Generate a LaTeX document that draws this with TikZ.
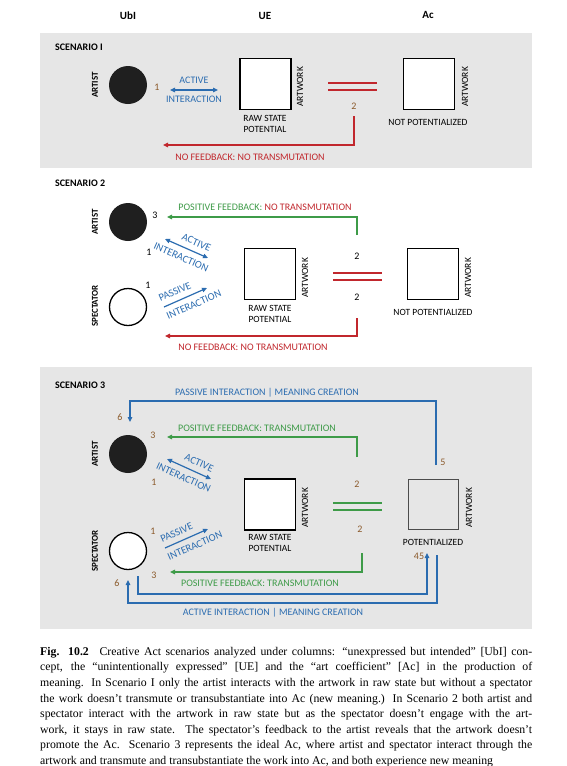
\documentclass[tikz,border=0pt]{standalone}
\usepackage{fontspec}
\setmainfont{Liberation Serif}
\newfontfamily\dfont{Carlito}
\usetikzlibrary{arrows.meta}
\definecolor{cblue}{HTML}{2B6CB0}
\definecolor{cred}{HTML}{C1272D}
\definecolor{cgreen}{HTML}{3E9B48}
\definecolor{cbrown}{HTML}{8B5A2B}
\definecolor{cgrey}{HTML}{E6E6E6}
\tikzset{
  lbl/.style={font=\dfont\fontsize{9.5}{10.5}\selectfont, inner sep=0pt, align=center},
  vlbl/.style={font=\dfont\fontsize{9.5}{10.5}\selectfont, inner sep=0pt, rotate=90},
  plbl/.style={font=\dfont\bfseries\fontsize{9}{10}\selectfont, inner sep=0pt, rotate=90},
  num/.style={font=\dfont\fontsize{10}{11}\selectfont, inner sep=0pt},
  bnum/.style={num, text=cbrown},
  hdr/.style={font=\dfont\bfseries\fontsize{11}{12}\selectfont, inner sep=0pt},
  scen/.style={font=\dfont\bfseries\fontsize{10}{11}\selectfont, anchor=west, inner sep=0pt},
  clbl/.style={font=\dfont\fontsize{10}{11}\selectfont, inner sep=0pt},
  slbl/.style={font=\dfont\fontsize{10.5}{11}\selectfont, inner sep=0pt, sloped, text=cblue},
  artist/.style={circle, fill=black!88, minimum size=38pt, inner sep=0pt},
  spect/.style={circle, draw=black, line width=1.3pt, fill=white, minimum size=37pt, inner sep=0pt},
  artbox/.style={draw=black, line width=1.8pt, fill=white, minimum size=51pt, inner sep=0pt},
  potbox/.style={draw=black!70, line width=1.8pt, minimum size=50pt, inner sep=0pt},
  arr/.style={line width=1.2pt, -{Triangle[length=5pt,width=4.5pt]}},
  darr/.style={line width=1.2pt, {Triangle[length=5pt,width=4.5pt]}-{Triangle[length=5pt,width=4.5pt]}},
  eqbar/.style={minimum width=49pt, minimum height=2pt, inner sep=0pt, outer sep=0pt, draw=none},
}
\begin{document}
\begin{tikzpicture}[x=1pt,y=-1pt]
\fill[white] (0,0) rectangle (567,766);
\useasboundingbox (0,0) rectangle (567,766);
% backgrounds
\fill[cgrey] (40,33) rectangle (532,168);
\fill[cgrey] (40,367) rectangle (532,629);
% headers
\node[hdr] (hUbI) at (128,16) {UbI};
\node[hdr] (hUE) at (265,16) {UE};
\node[hdr] (hAc) at (428,15) {Ac};

% ---------------- SCENARIO 1
\node[scen] (sc1) at (55,47) {SCENARIO I};
\node[artist] (a1) at (128,85) {};
\node[plbl] (a1l) at (95,85) {ARTIST};
\node[bnum] (a1n) at (157,87) {1};
\coordinate (a1p) at (170,90);
\coordinate (a1q) at (218,90);
\draw[darr, cblue] (a1p) -- (a1q)
  node[clbl, midway, above=5.5pt, text=cblue] (a1t1) {ACTIVE}
  node[clbl, midway, below=5.5pt, text=cblue] (a1t2) {INTERACTION};
\node[artbox] (w1) at (265.5,84) {};
\node[vlbl] (w1l) at (300,87) {ARTWORK};
\node[lbl] (w1s) at (265,124) {RAW STATE\\POTENTIAL};
\node[eqbar, fill=cred] (q1a) at (352.5,83.2) {};
\node[eqbar, fill=cred] (q1b) at (352.5,89.8) {};
\node[bnum] (n1) at (354,106) {2};
\coordinate (r1s) at (354,116);
\coordinate (r1e) at (163,145);
\draw[arr, cred] (r1s) |- (r1e);
\node[clbl, text=cred] (r1l) at (250,157) {NO FEEDBACK: NO TRANSMUTATION};
\node[artbox] (v1) at (429,84) {};
\node[vlbl] (v1l) at (465,87) {ARTWORK};
\node[lbl] (v1s) at (428,122) {NOT POTENTIALIZED};

% ---------------- SCENARIO 2
\node[scen] (sc2) at (55,183) {SCENARIO 2};
\node[artist] (a2) at (128,222) {};
\node[plbl] (a2l) at (95,222) {ARTIST};
\node[num] (a2n3) at (155,215) {3};
\coordinate (g2s) at (357,235);
\coordinate (g2e) at (167,217);
\draw[arr, cgreen] (g2s) |- (g2e);
\node[clbl] (g2l) at (265,207) {\textcolor{cgreen}{POSITIVE FEEDBACK:} \textcolor{cred}{NO TRANSMUTATION}};
\node[num] (a2n1) at (149,252) {1};
\coordinate (a2p) at (165,239);
\coordinate (a2q) at (208,258);
\draw[darr, cblue] (a2p) -- (a2q)
  node[slbl, pos=0.64, above=5.5pt] (a2t1) {ACTIVE}
  node[slbl, pos=0.47, below=6pt] (a2t2) {INTERACTION};
\node[spect] (s2) at (128,307) {};
\node[plbl] (s2l) at (95,306) {SPECTATOR};
\node[num] (s2n1) at (148,285) {1};
\coordinate (s2p) at (164,307);
\coordinate (s2q) at (207,288);
\draw[arr, cblue] (s2p) -- (s2q)
  node[slbl, pos=0.34, above=5.5pt] (s2t1) {PASSIVE}
  node[slbl, pos=0.6, below=6pt] (s2t2) {INTERACTION};
\node[artbox] (w2) at (270,274) {};
\node[vlbl] (w2l) at (305,278) {ARTWORK};
\node[lbl] (w2s) at (270,314) {RAW STATE\\POTENTIAL};
\node[eqbar, fill=cred] (q2a) at (357.5,273.2) {};
\node[eqbar, fill=cred] (q2b) at (357.5,279.8) {};
\node[num] (n2a) at (357,256) {2};
\node[num] (n2b) at (357,297) {2};
\coordinate (r2s) at (357,318);
\coordinate (r2e) at (165,336);
\draw[arr, cred] (r2s) |- (r2e);
\node[clbl, text=cred] (r2l) at (253,347) {NO FEEDBACK: NO TRANSMUTATION};
\node[artbox] (v2) at (433,274) {};
\node[vlbl] (v2l) at (468,278) {ARTWORK};
\node[lbl] (v2s) at (433,312) {NOT POTENTIALIZED};

% ---------------- SCENARIO 3
\node[scen] (sc3) at (55,385) {SCENARIO 3};
\coordinate (b3s) at (436,465);
\coordinate (b3m) at (130,401);
\coordinate (b3e) at (130,422);
\draw[arr, cblue] (b3s) |- (b3m) -- (b3e);
\node[clbl, text=cblue] (b3l) at (267,393) {PASSIVE INTERACTION | MEANING CREATION};
\node[bnum] (a3n6) at (120,417) {6};
\node[artist] (a3) at (128,454) {};
\node[plbl] (a3l) at (95,454) {ARTIST};
\node[bnum] (a3n3) at (153,435) {3};
\coordinate (g3s) at (357,457);
\coordinate (g3e) at (167,437);
\draw[arr, cgreen] (g3s) |- (g3e);
\node[clbl, text=cgreen] (g3l) at (257,428) {POSITIVE FEEDBACK: TRANSMUTATION};
\node[bnum] (n5) at (443,462) {5};
\node[bnum] (a3n1) at (154,482) {1};
\coordinate (a3p) at (167,459);
\coordinate (a3q) at (211,479);
\draw[darr, cblue] (a3p) -- (a3q)
  node[slbl, pos=0.64, above=5.5pt] (a3t1) {ACTIVE}
  node[slbl, pos=0.47, below=6pt] (a3t2) {INTERACTION};
\node[artbox] (w3) at (270,504.5) {};
\node[vlbl] (w3l) at (305,508) {ARTWORK};
\node[lbl] (w3s) at (270,543) {RAW STATE\\POTENTIAL};
\node[eqbar, fill=cgreen] (q3a) at (357.5,503.2) {};
\node[eqbar, fill=cgreen] (q3b) at (357.5,509.8) {};
\node[bnum] (n3a) at (357,484) {2};
\node[bnum] (n3b) at (360,529) {2};
\node[potbox] (v3) at (433.5,504.5) {};
\node[vlbl] (v3l) at (469,508) {ARTWORK};
\node[lbl] (v3s) at (433,542) {POTENTIALIZED};
\node[bnum] (n45) at (419,556) {45};
\node[spect] (s3) at (128,551) {};
\node[plbl] (s3l) at (95,551) {SPECTATOR};
\node[bnum] (s3n1) at (153,531) {1};
\coordinate (s3p) at (165,548);
\coordinate (s3q) at (208,529);
\draw[arr, cblue] (s3p) -- (s3q)
  node[slbl, pos=0.36, above=5.5pt] (s3t1) {PASSIVE}
  node[slbl, pos=0.6, below=6pt] (s3t2) {INTERACTION};
\node[bnum] (s3n3) at (154,575) {3};
\coordinate (g4s) at (362,553);
\coordinate (g4e) at (170,572);
\draw[arr, cgreen] (g4s) |- (g4e);
\node[clbl, text=cgreen] (g4l) at (260,583) {POSITIVE FEEDBACK: TRANSMUTATION};
\coordinate (b4s) at (138,576);
\coordinate (b4m) at (427,594);
\coordinate (b4e) at (427,553);
\draw[arr, cblue] (b4s) |- (b4m) -- (b4e);
\coordinate (b5s) at (437,555);
\coordinate (b5m) at (128,603);
\coordinate (b5e) at (128,580);
\draw[arr, cblue] (b5s) |- (b5m) -- (b5e);
\node[bnum] (s3n6) at (117,583) {6};
\node[clbl, text=cblue] (b5l) at (273,613) {ACTIVE INTERACTION | MEANING CREATION};

% ---------------- caption
\node[anchor=north west, inner sep=0pt, text width=492pt, align=justify,
      font=\fontsize{11.8}{15.6}\selectfont] (cap) at (40,647) {%
\parindent=0pt \hyphenpenalty=10000 \tolerance=9999 \parfillskip=0pt
\textbf{Fig. 10.2}\hspace{0.9em}Creative Act scenarios analyzed under columns: “unexpressed but intended” [UbI] con-\linebreak
cept, the “unintentionally expressed” [UE] and the “art coefficient” [Ac] in the production of\linebreak
meaning. In Scenario I only the artist interacts with the artwork in raw state but without a spectator\linebreak
the work doesn’t transmute or transubstantiate into Ac (new meaning.) In Scenario 2 both artist and\linebreak
spectator interact with the artwork in raw state but as the spectator doesn’t engage with the art-\linebreak
work, it stays in raw state. The spectator’s feedback to the artist reveals that the artwork doesn’t\linebreak
promote the Ac. Scenario 3 represents the ideal Ac, where artist and spectator interact through the\linebreak
artwork and transmute and transubstantiate the work into Ac, and both experience new meaning};
\end{tikzpicture}
\end{document}
